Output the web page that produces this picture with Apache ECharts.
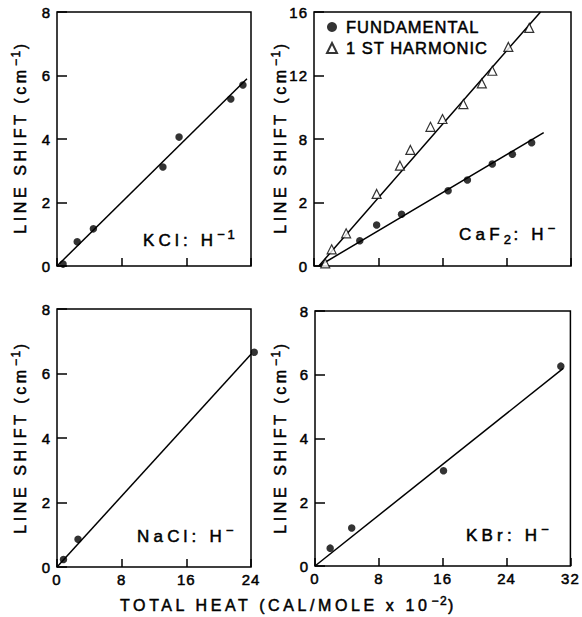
<!DOCTYPE html>
<html>
<head>
<meta charset="utf-8">
<script src="https://cdn.jsdelivr.net/npm/echarts@6/dist/echarts.min.js"></script>
<style>
html, body { margin: 0; padding: 0; background: #fff; }
#chart { width: 582px; height: 617px; }
/* old-style wide tracking, keyed on font size (kept in step with TRACK below) */
#chart text[style*="12px"] { letter-spacing: 1.5px; }
#chart text[style*="13px"] { letter-spacing: 2.5px; }
#chart text[style*="15px"] { letter-spacing: 1px; }
#chart text[style*="16px"] { letter-spacing: 3.6px; }
#chart text[style*="16.5px"] { letter-spacing: 1px; }
#chart text[style*="17px"] { letter-spacing: 4.2px; }
</style>
</head>
<body>
<div id="chart"></div>
<script>
// KCl:H-
var kclHeat = [0.75, 2.5, 4.5, 13.1, 15.1, 21.5, 23.0];
var kclShift = [0.06, 0.76, 1.17, 3.12, 4.06, 5.26, 5.7];
var kclFitHeat = [0, 23.5];
var kclFitShift = [0, 5.9];

// CaF2:H- fundamental and 1st harmonic
var caf2FundHeat = [5.7, 7.8, 10.9, 16.7, 19.1, 22.2, 24.7, 27.1];
var caf2FundShift = [1.59, 2.58, 3.26, 4.74, 5.42, 6.43, 7.04, 7.77];
var caf2FundFitHeat = [0.6, 28.6];
var caf2FundFitShift = [0, 8.4];
var caf2HarmHeat = [1.4, 2.2, 4.0, 7.8, 10.7, 12.0, 14.5, 16.0, 18.6, 20.9, 22.2, 24.2, 26.8];
var caf2HarmShift = [0.17, 1.05, 2.06, 4.54, 6.32, 7.31, 8.77, 9.26, 10.2, 11.5, 12.3, 13.8, 15.0];
var caf2HarmFitHeat = [0.6, 28.2];
var caf2HarmFitShift = [0, 16];

// NaCl:H-
var naclHeat = [0.8, 2.6, 24.4];
var naclShift = [0.23, 0.86, 6.66];
var naclFitHeat = [0, 24];
var naclFitShift = [0, 6.6];

// KBr:H-
var kbrHeat = [1.9, 4.6, 16.1, 30.8];
var kbrShift = [0.56, 1.19, 2.99, 6.27];
var kbrFitHeat = [0, 31.1];
var kbrFitShift = [0, 6.2];

// tick labels as printed (CaF2 panel reads "2" where 4 would be)
var caf2YTickLabels = ['0', '2', '8', '12', '16'];

var seriesNames = ['FUNDAMENTAL', '1 ST HARMONIC'];

var FONT = "'Liberation Sans', 'DejaVu Sans', sans-serif";
var INK = 0.5; // thin outline so the type looks like the heavy lettering of the scan
var TRACK = { 12: 1.5, 13: 2.5, 16: 3.6, 17: 4.2 };

// pieces of text: [text, fontSize, raise]
var yTitle = [['LINE SHIFT (cm', 16, 0], ['\u22121', 12, -4], [')', 16, 0]];
var xTitle = [['TOTAL HEAT (CAL/MOLE x 10', 16, 0], ['\u22122', 12, -4.5], [')', 16, 0]];
var kclTitle = [['KCl: H', 17, 0], ['\u22121', 13, -5.5]];
var caf2Title = [['CaF', 17, 0], ['2', 13, 5], [': H', 17, 0], ['\u2212', 13, -5.5]];
var naclTitle = [['NaCl: H', 17, 0], ['\u2212', 13, -5.5]];
var kbrTitle = [['KBr: H', 17, 0], ['\u2212', 13, -5.5]];

function zip(xs, ys) {
  var res = [];
  for (var i = 0; i < xs.length; i++) {
    res.push([xs[i], ys[i]]);
  }
  return res;
}

var measureCtx = document.createElement('canvas').getContext('2d');
function textWidth(t, size) {
  measureCtx.font = size + 'px ' + FONT;
  return measureCtx.measureText(t).width + (TRACK[size] || 0) * t.length;
}

// lay pieces side by side in a group (so super/subscripts sit after tracked text)
function typeset(x, y, pieces, centered, rotated) {
  var widths = pieces.map(function (p) { return textWidth(p[0], p[1]); });
  var total = widths.reduce(function (a, b) { return a + b; }, 0);
  var cx = centered ? -total / 2 : 0;
  var children = pieces.map(function (p, i) {
    var el = {
      type: 'text', x: cx, y: p[2],
      style: {
        text: p[0], fontSize: p[1], fontFamily: FONT, fill: '#000',
        stroke: '#000', lineWidth: INK, align: 'left', verticalAlign: 'middle'
      }
    };
    cx += widths[i];
    return el;
  });
  return { type: 'group', x: x, y: y, rotation: rotated ? Math.PI / 2 : 0, children: children };
}

function xAxisFor(idx, max, showLabels) {
  return {
    type: 'value', gridIndex: idx, min: 0, max: max, interval: 8,
    axisLine: { show: false },
    axisTick: { inside: true, length: 8, lineStyle: { color: '#000', width: 1.5 } },
    axisLabel: {
      show: showLabels, color: '#000', fontSize: 15, fontFamily: FONT, margin: 5,
      textBorderColor: '#000', textBorderWidth: INK
    },
    splitLine: { show: false }
  };
}

function yAxisFor(idx, max, interval, formatter) {
  return {
    type: 'value', gridIndex: idx, min: 0, max: max, interval: interval,
    axisLine: { show: false },
    axisTick: { inside: true, length: 10, lineStyle: { color: '#000', width: 1.5 } },
    axisLabel: {
      color: '#000', fontSize: 15, fontFamily: FONT, margin: 6, formatter: formatter,
      textBorderColor: '#000', textBorderWidth: INK
    },
    splitLine: { show: false }
  };
}

function dots(name, idx, xs, ys) {
  return {
    name: name, type: 'scatter', xAxisIndex: idx, yAxisIndex: idx,
    data: zip(xs, ys), symbol: 'circle', symbolSize: 7.5, clip: false,
    itemStyle: { color: '#000' }, z: 3
  };
}

function fitLine(idx, xs, ys) {
  return {
    type: 'line', xAxisIndex: idx, yAxisIndex: idx,
    data: zip(xs, ys), showSymbol: false, silent: true, clip: false,
    lineStyle: { color: '#000', width: 1.5 }, z: 2
  };
}

var gridBox = { show: true, borderColor: '#000', borderWidth: 1.5, backgroundColor: 'transparent' };

var chart = echarts.init(document.getElementById('chart'), null, { renderer: 'svg' });

chart.setOption({
  animation: false,
  backgroundColor: '#fff',
  grid: [
    Object.assign({ left: 57, top: 12, width: 194, height: 254 }, gridBox),
    Object.assign({ left: 314, top: 12, width: 257, height: 254 }, gridBox),
    Object.assign({ left: 57, top: 309, width: 194, height: 258 }, gridBox),
    Object.assign({ left: 315, top: 311, width: 258, height: 255 }, gridBox)
  ],
  xAxis: [
    xAxisFor(0, 24, false),
    xAxisFor(1, 32, false),
    xAxisFor(2, 24, true),
    xAxisFor(3, 32, true)
  ],
  yAxis: [
    yAxisFor(0, 8, 2),
    yAxisFor(1, 16, 4, function (v) { return caf2YTickLabels[Math.round(v / 4)]; }),
    yAxisFor(2, 8, 2),
    yAxisFor(3, 8, 2)
  ],
  legend: {
    data: seriesNames,
    orient: 'vertical',
    left: 326, top: 18, padding: 0,
    itemWidth: 10, itemHeight: 10, itemGap: 3,
    textStyle: {
      color: '#000', fontSize: 16.5, fontFamily: FONT, lineHeight: 18, padding: [0, 0, 0, 4],
      textBorderColor: '#000', textBorderWidth: INK
    },
    selectedMode: false
  },
  series: [
    fitLine(0, kclFitHeat, kclFitShift),
    dots('KCl', 0, kclHeat, kclShift),

    fitLine(1, caf2HarmFitHeat, caf2HarmFitShift),
    fitLine(1, caf2FundFitHeat, caf2FundFitShift),
    dots(seriesNames[0], 1, caf2FundHeat, caf2FundShift),
    {
      name: seriesNames[1], type: 'scatter', xAxisIndex: 1, yAxisIndex: 1,
      data: zip(caf2HarmHeat, caf2HarmShift), symbol: 'triangle', symbolSize: 9,
      itemStyle: { color: '#fff', borderColor: '#000', borderWidth: 1.2 }, z: 3
    },

    fitLine(2, naclFitHeat, naclFitShift),
    dots('NaCl', 2, naclHeat, naclShift),

    fitLine(3, kbrFitHeat, kbrFitShift),
    dots('KBr', 3, kbrHeat, kbrShift)
  ],
  graphic: [
    typeset(20, 137, yTitle, true, true),
    typeset(280, 137, yTitle, true, true),
    typeset(20, 437, yTitle, true, true),
    typeset(280, 437, yTitle, true, true),
    typeset(120, 605, xTitle, false, false),
    typeset(143, 240, kclTitle, false, false),
    typeset(459, 234, caf2Title, false, false),
    typeset(137, 536, naclTitle, false, false),
    typeset(466, 535, kbrTitle, false, false)
  ]
});
</script>
</body>
</html>
